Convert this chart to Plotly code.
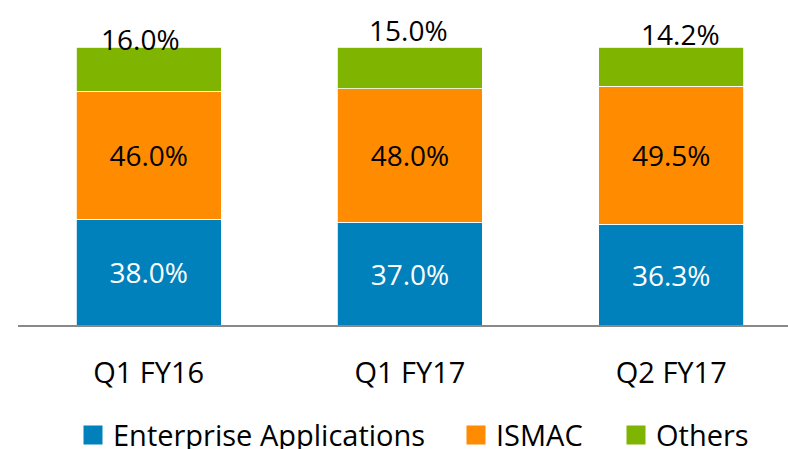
import plotly.graph_objects as go

categories = ["Q1 FY16", "Q1 FY17", "Q2 FY17"]
enterprise = [38.0, 37.0, 36.3]
ismac = [46.0, 48.0, 49.5]
others = [16.0, 15.0, 14.2]
series_names = ["Enterprise Applications", "ISMAC", "Others"]
colors = ["#0081BC", "#FF8B00", "#7FB401"]
label_colors = ["white", "black"]

FONT = "Open Sans"
FS_NUM = 28
FS_TXT = 29

fig = go.Figure()
for i, (name, vals, col) in enumerate(zip(series_names, [enterprise, ismac, others], colors)):
    showtxt = i < 2
    fig.add_trace(go.Bar(
        x=categories, y=vals, name=name,
        marker=dict(color=col, line=dict(color="white", width=0.8)),
        text=[f"{v:.1f}%" for v in vals] if showtxt else None,
        textposition="inside" if showtxt else "none",
        insidetextanchor="middle",
        textfont=dict(color=label_colors[i] if showtxt else "black", size=FS_NUM, family=FONT),
        showlegend=False,
        width=0.555,
        hoverinfo="skip",
    ))
    lg = "legend" if i == 0 else f"legend{i+1}"
    fig.add_trace(go.Scatter(
        x=[None], y=[None], mode="markers", name=name,
        marker=dict(symbol="square", size=19, color=col, line=dict(color=col, width=3)),
        showlegend=True, legend=lg,
    ))

totals = [a + b + c for a, b, c in zip(enterprise, ismac, others)]
xshifts = [-8, -1, 9]
yshifts = [8, 17, 13]
for cat, tot, v, xs, ys in zip(categories, totals, others, xshifts, yshifts):
    fig.add_annotation(
        x=cat, y=tot, xref="x", yref="y", text=f"{v:.1f}%",
        showarrow=False, yanchor="middle", yshift=ys, xshift=xs,
        font=dict(color="black", size=FS_NUM, family=FONT),
    )

leg_common = dict(
    orientation="h", xref="container", yref="container",
    xanchor="left", y=0.031, yanchor="middle",
    font=dict(size=FS_TXT, family=FONT, color="black"),
    bgcolor="rgba(0,0,0,0)",
)
fig.update_layout(
    barmode="stack",
    width=788, height=449,
    margin=dict(l=18, r=0, t=47, b=124, autoexpand=False),
    paper_bgcolor="white", plot_bgcolor="white",
    font=dict(family=FONT, size=FS_TXT, color="black"),
    legend=dict(x=73 / 788, **leg_common),
    legend2=dict(x=456 / 788, **leg_common),
    legend3=dict(x=616 / 788, **leg_common),
    xaxis=dict(
        range=[-0.5, 2.447], showline=True, linecolor="#898989", linewidth=1.5,
        ticks="outside", ticklen=21, tickcolor="rgba(0,0,0,0)",
        showgrid=False, zeroline=False,
        tickfont=dict(size=FS_TXT, family=FONT, color="black"),
    ),
    yaxis=dict(range=[0, 100], visible=False, showgrid=False, zeroline=False),
)

fig.write_html(
    "out.html",
    config={"displayModeBar": False},
    post_script="document.body.style.margin='0';document.body.style.overflow='hidden';",
)
